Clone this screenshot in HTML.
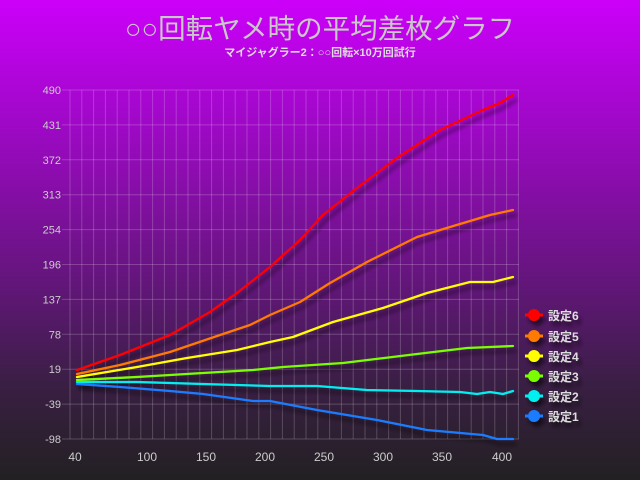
<!DOCTYPE html>
<html><head><meta charset="utf-8"><style>
html,body{margin:0;padding:0;}
body{width:640px;height:480px;overflow:hidden;background:linear-gradient(#cc00fa 0%,#a008c8 25%,#6a1484 55%,#3a1f44 80%,#222022 100%);font-family:"Liberation Sans","Noto Sans CJK JP",sans-serif;}
</style></head><body>
<svg width="640" height="480" xmlns="http://www.w3.org/2000/svg" style="position:absolute;left:0;top:0">
<defs>
<filter id="sh" x="-10%" y="-10%" width="120%" height="130%"><feGaussianBlur in="SourceAlpha" stdDeviation="2"/><feOffset dx="3" dy="5"/><feComponentTransfer><feFuncA type="linear" slope="0.55"/></feComponentTransfer><feMerge><feMergeNode/><feMergeNode in="SourceGraphic"/></feMerge></filter>
</defs>
<text x="320" y="38" text-anchor="middle" font-size="27.5" fill="#c8c8c8" font-family="Liberation Sans,Noto Sans CJK JP,sans-serif">○○回転ヤメ時の平均差枚グラフ</text>
<text x="320" y="56" text-anchor="middle" font-size="11" font-weight="bold" fill="#dddddd" font-family="Liberation Sans,Noto Sans CJK JP,sans-serif">マイジャグラー2：○○回転×10万回試行</text>
<g stroke="#ffffff" stroke-opacity="0.2" stroke-width="1" id="grid"></g>
<g font-size="11" fill="#cccccc" text-anchor="end" id="ylab"></g>
<g font-size="12" fill="#cccccc" text-anchor="middle">
<text x="75" y="461">40</text><text x="147" y="461">100</text><text x="206" y="461">150</text><text x="265" y="461">200</text><text x="324" y="461">250</text><text x="383" y="461">300</text><text x="442" y="461">350</text><text x="502" y="461">400</text>
</g>
<g fill="none" stroke-width="2.3" stroke-linejoin="round" stroke-linecap="round" filter="url(#sh)">
<polyline stroke="#1a7cff" points="77,384 120,387 170,391 203,394 253,401 270,401 317,410 377,420 427,430 483,435 497,439 513,439"/>
<polyline stroke="#00f0f0" points="77,382 137,382 203,384 270,386 317,386 367,390 417,391 460,392 477,394 490,392 503,394 513,391"/>
<polyline stroke="#7aff00" points="77,380 137,377 203,373 253,370 283,367 343,363 417,354 467,348 513,346"/>
<polyline stroke="#ffff00" points="77,377 137,367 187,358 237,350 270,342 293,337 333,322 383,308 427,293 470,282 493,282 513,277"/>
<polyline stroke="#ff7a00" points="77,374 120,365 170,352 220,335 250,325 270,315 300,302 330,283 367,262 417,237 450,227 490,215 513,210"/>
<polyline stroke="#ff0000" points="77,370 120,355 170,335 210,312 237,293 270,267 300,240 323,215 357,188 397,158 440,130 483,110 500,103 513,95"/>
</g>
<g font-size="12" fill="#dddddd" font-weight="bold" filter="url(#sh)">
<line x1="525" y1="315" x2="543" y2="315" stroke="#ff0000" stroke-width="3"/><circle cx="534" cy="315" r="6" fill="#ff0000"/><text x="548" y="320">設定6</text>
<line x1="525" y1="336" x2="543" y2="336" stroke="#ff7a00" stroke-width="3"/><circle cx="534" cy="336" r="6" fill="#ff7a00"/><text x="548" y="341">設定5</text>
<line x1="525" y1="356" x2="543" y2="356" stroke="#ffff00" stroke-width="3"/><circle cx="534" cy="356" r="6" fill="#ffff00"/><text x="548" y="361">設定4</text>
<line x1="525" y1="376" x2="543" y2="376" stroke="#7aff00" stroke-width="3"/><circle cx="534" cy="376" r="6" fill="#7aff00"/><text x="548" y="381">設定3</text>
<line x1="525" y1="396" x2="543" y2="396" stroke="#00f0f0" stroke-width="3"/><circle cx="534" cy="396" r="6" fill="#00f0f0"/><text x="548" y="401">設定2</text>
<line x1="525" y1="416" x2="543" y2="416" stroke="#1a7cff" stroke-width="3"/><circle cx="534" cy="416" r="6" fill="#1a7cff"/><text x="548" y="421">設定1</text>
</g>
</svg>
<script>
var ns="http://www.w3.org/2000/svg",g=document.getElementById("grid"),yl=document.getElementById("ylab");
for(var x=70;x<=520;x+=11.8){var l=document.createElementNS(ns,"line");l.setAttribute("x1",x);l.setAttribute("x2",x);l.setAttribute("y1",90);l.setAttribute("y2",439);g.appendChild(l);}
var labs=["490","431","372","313","254","196","137","78","19","-39","-98"];
for(var i=0;i<11;i++){var y=90+i*34.9;var l=document.createElementNS(ns,"line");l.setAttribute("x1",62);l.setAttribute("x2",519);l.setAttribute("y1",y);l.setAttribute("y2",y);g.appendChild(l);
var t=document.createElementNS(ns,"text");t.setAttribute("x",61);t.setAttribute("y",y+4);t.textContent=labs[i];yl.appendChild(t);}
</script>
</body></html>
